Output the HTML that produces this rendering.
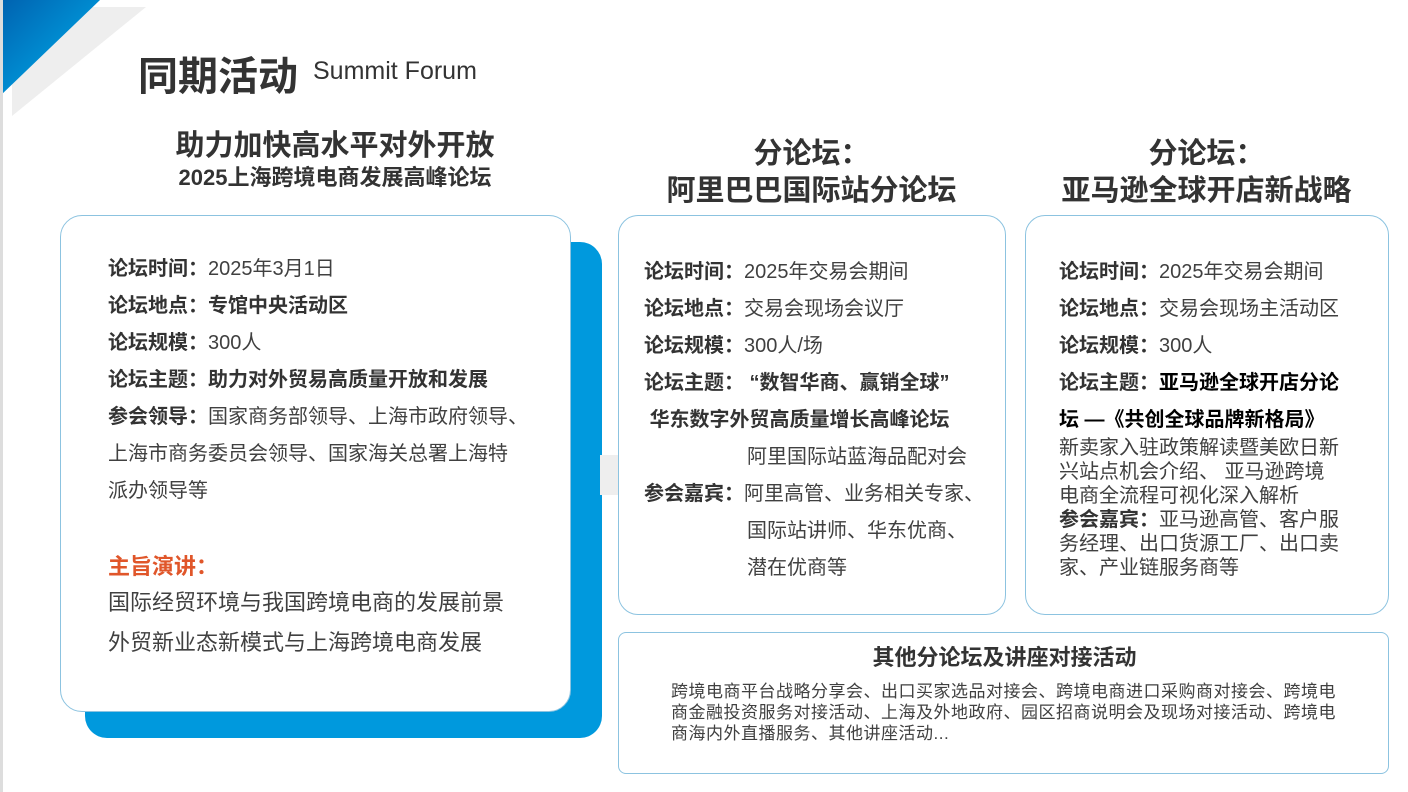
<!DOCTYPE html>
<html><head><meta charset="utf-8"><style>
body{margin:0;width:1408px;height:792px;overflow:hidden;background:#fff;position:relative;font-family:"Liberation Sans","Noto Sans CJK SC",sans-serif;color:#404040}
.a{position:absolute;white-space:nowrap}
.card{position:absolute;background:#fff;border:1px solid #8cc3e0;box-sizing:border-box}
b{font-weight:bold;color:#333}
.t{font-size:20px;line-height:37px}
</style></head><body>
<svg class="a" style="left:0;top:0" width="160" height="120">
<defs><linearGradient id="g" x1="0" y1="0" x2="1" y2="1"><stop offset="0" stop-color="#0062b0"/><stop offset="1" stop-color="#00b4f0"/></linearGradient></defs>
<polygon points="12,7 146,7 12,116" fill="#eeeeee"/>
<polygon points="0,0 100,0 0,96" fill="url(#g)"/>
</svg>
<div class="a" style="left:0;top:0;width:3px;height:792px;background:#ddd"></div>
<div class="a" style="left:138px;top:44px;font-size:40px;font-weight:bold;color:#333">同期活动</div>
<div class="a" style="left:313px;top:57px;font-size:25px;color:#333">Summit Forum</div>
<div class="a" style="left:60px;width:550px;top:122px;text-align:center;font-size:29px;font-weight:bold;color:#333">助力加快高水平对外开放</div>
<div class="a" style="left:60px;width:550px;top:160px;text-align:center;font-size:22px;font-weight:bold;color:#333">2025上海跨境电商发展高峰论坛</div>
<div class="a" style="left:618px;width:387px;top:136px;text-align:center;font-size:29px;font-weight:bold;color:#333;line-height:37px">分论坛：<br>阿里巴巴国际站分论坛</div>
<div class="a" style="left:1025px;width:363px;top:136px;text-align:center;font-size:29px;font-weight:bold;color:#333;line-height:37px">分论坛：<br>亚马逊全球开店新战略</div>
<div class="a" style="left:85px;top:242px;width:517px;height:496px;background:#0099dd;border-radius:22px"></div>
<div class="a" style="left:600px;top:455px;width:18px;height:40px;background:#eee"></div>
<div class="card" style="left:60px;top:215px;width:511px;height:497px;border-radius:22px">
<div class="a t" style="left:47px;top:35px">
<b>论坛时间：</b>2025年3月1日<br><b>论坛地点：专馆中央活动区</b><br><b>论坛规模：</b>300人<br><b>论坛主题：助力对外贸易高质量开放和发展</b><br><b>参会领导：</b>国家商务部领导、上海市政府领导、<br>上海市商务委员会领导、国家海关总署上海特<br>派办领导等</div>
<div class="a" style="left:47px;top:333px;font-size:22px;font-weight:bold;color:#e0562a">主旨演讲：</div>
<div class="a" style="left:47px;top:367px;font-size:22px;line-height:40px">国际经贸环境与我国跨境电商的发展前景<br>外贸新业态新模式与上海跨境电商发展</div>
</div>
<div class="card" style="left:618px;top:215px;width:388px;height:400px;border-radius:20px">
<div class="a t" style="left:25px;top:38px"><b>论坛时间：</b>2025年交易会期间<br><b>论坛地点：</b>交易会现场会议厅<br><b>论坛规模：</b>300人/场<br><b>论坛主题：&nbsp;“数智华商、赢销全球”</b><br>&nbsp;<b>华东数字外贸高质量增长高峰论坛</b><br><span style="padding-left:103px">阿里国际站蓝海品配对会</span><br><b>参会嘉宾：</b>阿里高管、业务相关专家、<br><span style="padding-left:103px">国际站讲师、华东优商、</span><br><span style="padding-left:103px">潜在优商等</span></div>
</div>
<div class="card" style="left:1025px;top:215px;width:364px;height:400px;border-radius:20px">
<div class="a t" style="left:33px;top:38px"><b>论坛时间：</b>2025年交易会期间<br><b>论坛地点：</b>交易会现场主活动区<br><b>论坛规模：</b>300人<br><b>论坛主题：<span style="color:#000">亚马逊全球开店分论</span></b><br><b style="color:#000">坛 —《共创全球品牌新格局》</b></div>
<div class="a" style="left:33px;top:220px;font-size:20px;line-height:24px">新卖家入驻政策解读暨美欧日新<br>兴站点机会介绍、 亚马逊跨境<br>电商全流程可视化深入解析<br><b>参会嘉宾：</b>亚马逊高管、客户服<br>务经理、出口货源工厂、出口卖<br>家、产业链服务商等</div>
</div>
<div class="card" style="left:618px;top:632px;width:771px;height:142px;border-radius:8px">
<div class="a" style="left:0;width:771px;top:7px;text-align:center;font-size:22px;font-weight:bold;color:#333">其他分论坛及讲座对接活动</div>
<div class="a" style="left:52px;top:48px;font-size:17px;line-height:21px;letter-spacing:0.5px">跨境电商平台战略分享会、出口买家选品对接会、跨境电商进口采购商对接会、跨境电<br>商金融投资服务对接活动、上海及外地政府、园区招商说明会及现场对接活动、跨境电<br>商海内外直播服务、其他讲座活动...</div>
</div>
</body></html>
